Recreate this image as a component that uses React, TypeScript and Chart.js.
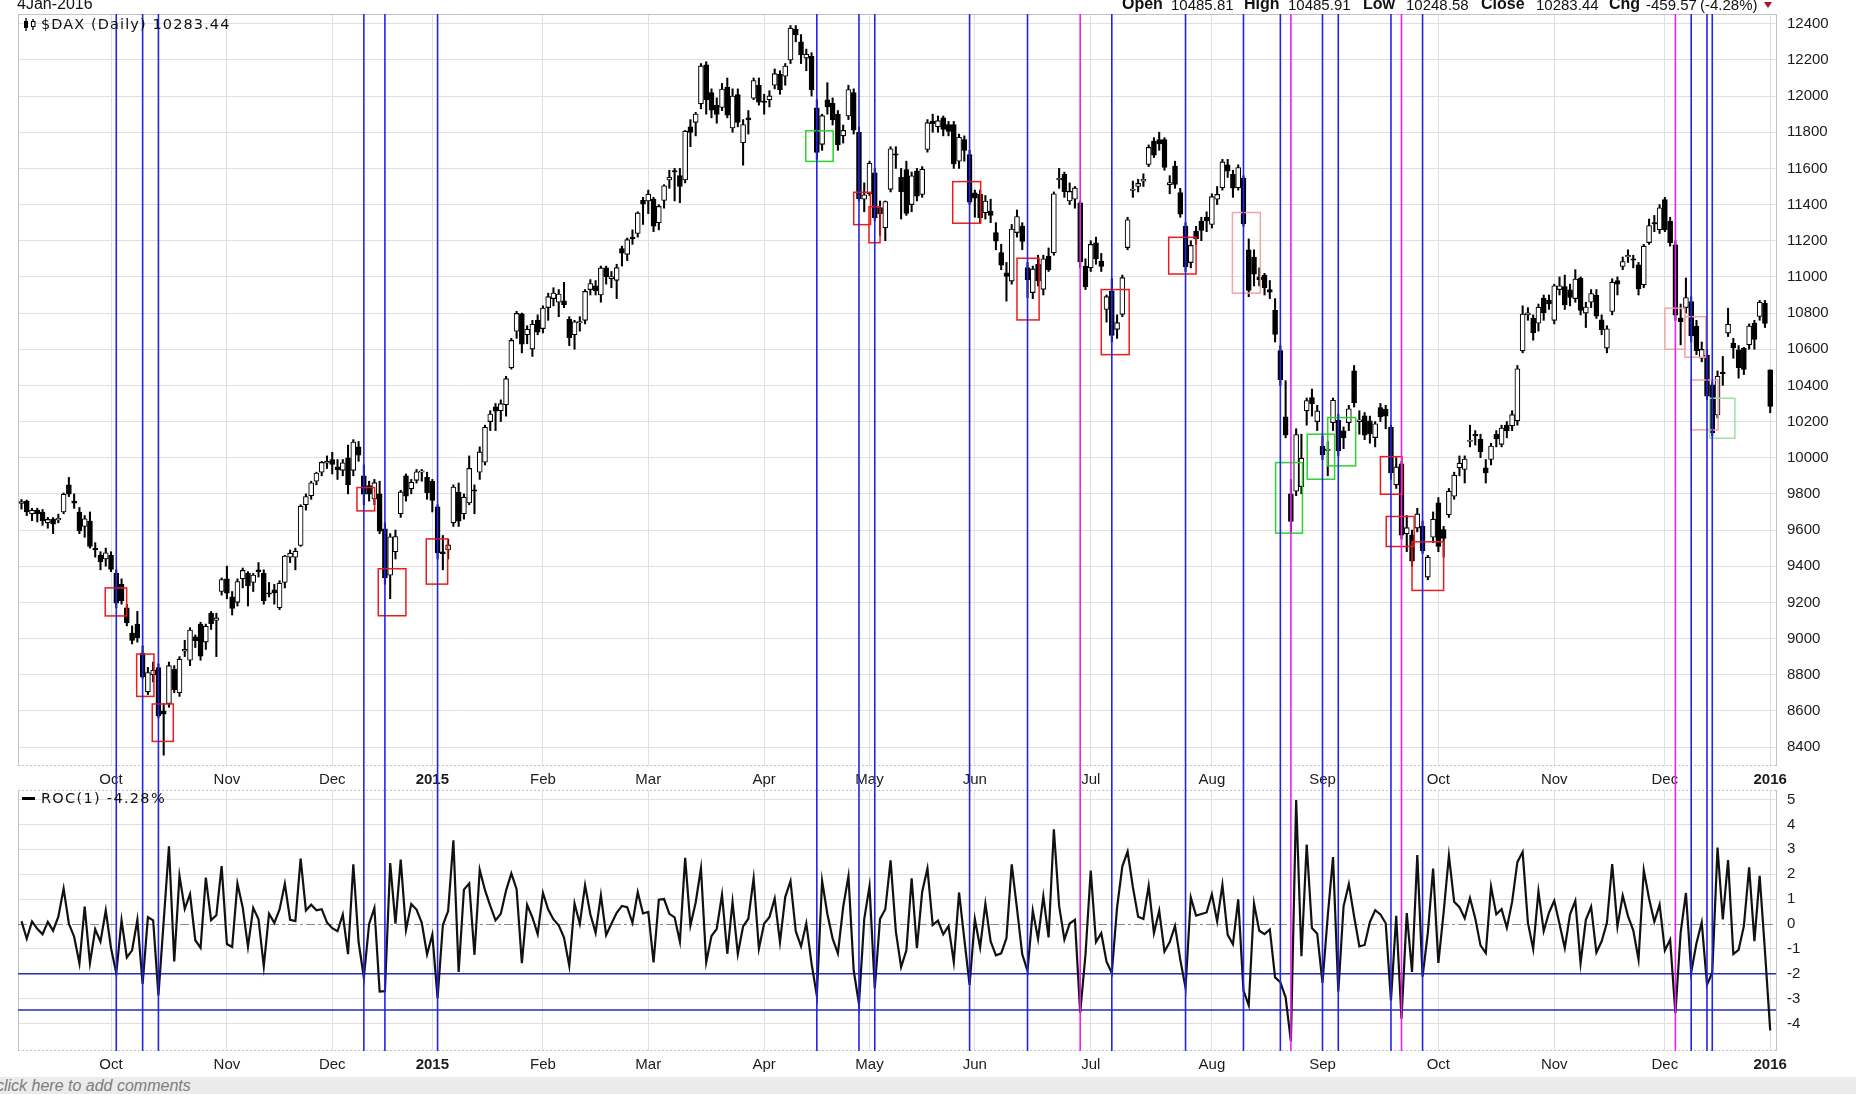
import React, { useEffect, useRef } from 'react';
import { Chart, registerables } from 'chart.js';

Chart.register(...registerables);

// ---------------- DATA ----------------
// daily candles [open, high, low, close], $DAX, 8 Sep 2014 .. 4 Jan 2016
const prevClose = 9747; // close of 5 Sep 2014 (for ROC of first bar)

const sep2014 = [
  [9747, 9769, 9716, 9758], [9760, 9766, 9680, 9700], [9690, 9720, 9652, 9710], [9710, 9721, 9645, 9691],
  [9700, 9714, 9626, 9651], [9640, 9670, 9610, 9659], [9660, 9669, 9580, 9633], [9660, 9688, 9640, 9661],
  [9700, 9805, 9690, 9798], [9850, 9891, 9785, 9799], [9760, 9800, 9720, 9749], [9700, 9725, 9580, 9595],
  [9620, 9680, 9560, 9662], [9650, 9700, 9500, 9510], [9500, 9530, 9450, 9490], [9460, 9480, 9380, 9423],
  [9440, 9500, 9400, 9474],
];
const oct2014 = [
  [9460, 9480, 9370, 9382], [9360, 9380, 9170, 9196], [9300, 9330, 9190, 9210], [9170, 9190, 9070, 9086],
  [9030, 9070, 8970, 8990], [9080, 9150, 8980, 9005], [8920, 8960, 8780, 8788], [8705, 8840, 8690, 8812],
  [8800, 8870, 8760, 8825], [8840, 8860, 8560, 8572], [8600, 8640, 8355, 8582], [8640, 8870, 8620, 8850],
  [8830, 8850, 8700, 8717], [8700, 8900, 8680, 8886], [8930, 8990, 8900, 8940], [8880, 9060, 8850, 9047],
  [9010, 9020, 8950, 8988], [9080, 9090, 8880, 8902], [8980, 9080, 8940, 9068], [9140, 9150, 9050, 9082],
  [9100, 9140, 8900, 9114], [9260, 9335, 9240, 9326],
];
const nov2014 = [
  [9330, 9400, 9220, 9251], [9230, 9260, 9130, 9166], [9200, 9330, 9180, 9315], [9330, 9390, 9280, 9377],
  [9360, 9370, 9180, 9291], [9310, 9360, 9260, 9351], [9380, 9420, 9340, 9369], [9360, 9380, 9190, 9210],
  [9250, 9310, 9230, 9248], [9270, 9300, 9190, 9252], [9170, 9320, 9160, 9306], [9310, 9460, 9280, 9456],
  [9450, 9490, 9420, 9472], [9450, 9500, 9380, 9483], [9515, 9740, 9510, 9732], [9740, 9800, 9710, 9785],
  [9790, 9870, 9770, 9861], [9870, 9920, 9850, 9915], [9920, 9980, 9900, 9974], [9970, 10010, 9940, 9980],
];
const dec2014 = [
  [9990, 10030, 9910, 9963], [9950, 9990, 9880, 9934], [9930, 9990, 9900, 9972], [10000, 10070, 9800, 9851],
  [9930, 10100, 9900, 10087], [10060, 10090, 9980, 10014], [9900, 9960, 9740, 9799], [9846, 9870, 9760, 9799],
  [9772, 9880, 9740, 9862], [9800, 9870, 9580, 9594], [9607, 9640, 9300, 9335], [9350, 9580, 9220, 9563],
  [9480, 9600, 9440, 9564], [9690, 9820, 9670, 9811], [9900, 9910, 9760, 9787], [9828, 9880, 9800, 9865],
  [9875, 9935, 9860, 9922], [9920, 9935, 9870, 9927], [9892, 9920, 9770, 9806],
];
const jan2015 = [
  [9870, 9880, 9700, 9764], [9728, 9740, 9440, 9473], [9480, 9570, 9380, 9469], [9490, 9550, 9440, 9518],
  [9640, 9850, 9620, 9838], [9810, 9860, 9620, 9649], [9690, 9800, 9660, 9782], [9750, 10010, 9740, 9941],
  [9820, 9850, 9690, 9818], [9920, 10060, 9880, 10032], [9975, 10180, 9960, 10168], [10200, 10260, 10150, 10242],
  [10282, 10300, 10150, 10257], [10260, 10320, 10200, 10299], [10293, 10450, 10230, 10437], [10498, 10660, 10490, 10649],
  [10700, 10810, 10660, 10798], [10796, 10800, 10580, 10628], [10680, 10730, 10630, 10710], [10601, 10760, 10560, 10738],
  [10760, 10790, 10680, 10694],
];
const feb2015 = [
  [10714, 10840, 10690, 10828], [10830, 10910, 10760, 10891], [10880, 10940, 10840, 10911], [10860, 10930, 10780, 10905],
  [10868, 10970, 10830, 10846], [10766, 10780, 10620, 10664], [10680, 10760, 10600, 10752], [10745, 10780, 10700, 10753],
  [10760, 10930, 10740, 10920], [10930, 10985, 10900, 10963], [10950, 10980, 10900, 10924], [10900, 11060, 10860, 11050],
  [11050, 11060, 10960, 11001], [10990, 11030, 10940, 11002], [10981, 11070, 10880, 11051], [11156, 11170, 11060, 11131],
  [11125, 11215, 11090, 11206], [11218, 11260, 11180, 11211], [11240, 11360, 11220, 11354], [11423, 11440, 11290, 11402],
];
const mar2015 = [
  [11420, 11480, 11350, 11457], [11430, 11440, 11250, 11280], [11300, 11400, 11260, 11390], [11423, 11510, 11380, 11504],
  [11536, 11590, 11490, 11551], [11587, 11600, 11420, 11582], [11560, 11600, 11410, 11500], [11536, 11810, 11520, 11806],
  [11830, 11870, 11720, 11799], [11855, 11910, 11780, 11901], [11957, 12180, 11930, 12167], [12173, 12190, 11900, 11980],
  [12019, 12040, 11880, 11922], [11950, 11990, 11850, 11899], [11937, 12070, 11920, 12039], [12050, 12100, 11880, 11895],
  [11824, 12040, 11800, 12000], [12009, 12040, 11830, 11855], [11742, 11870, 11618, 11843], [11880, 11920, 11790, 11868],
  [11988, 12100, 11980, 12086], [12060, 12100, 11950, 11966],
];
const apr2015 = [
  [11970, 12010, 11900, 11968], [11980, 12030, 11940, 12001], [12060, 12150, 12040, 12124], [12120, 12140, 12010, 12036],
  [12110, 12180, 12060, 12166], [12200, 12390, 12180, 12375], [12370, 12390, 12300, 12339], [12300, 12340, 12180, 12228],
  [12210, 12260, 12140, 12231], [12220, 12240, 12000, 12036], [11935, 11980, 11650, 11689], [11733, 11900, 11700, 11892],
  [11980, 12074, 11900, 11940], [11960, 11990, 11840, 11870], [11900, 11920, 11700, 11730], [11780, 11840, 11740, 11810],
  [11890, 12060, 11870, 12036], [12020, 12040, 11790, 11811], [11800, 11830, 11420, 11432], [11430, 11520, 11360, 11454],
];
const may2015 = [
  [11460, 11640, 11450, 11628], [11576, 11600, 11310, 11327], [11383, 11420, 11230, 11350], [11272, 11420, 11200, 11417],
  [11484, 11720, 11470, 11709], [11680, 11720, 11600, 11674], [11550, 11600, 11320, 11472], [11594, 11640, 11340, 11351],
  [11400, 11580, 11360, 11559], [11585, 11600, 11420, 11447], [11456, 11610, 11440, 11595], [11705, 11870, 11690, 11853],
  [11862, 11900, 11800, 11848], [11830, 11890, 11800, 11864], [11880, 11890, 11780, 11815], [11843, 11860, 11780, 11805],
  [11843, 11860, 11600, 11625], [11640, 11790, 11600, 11772], [11760, 11780, 11640, 11700], [11677, 11700, 11400, 11414],
];
const jun2015 = [
  [11465, 11480, 11330, 11436], [11456, 11480, 11300, 11328], [11355, 11450, 11320, 11420], [11364, 11430, 11300, 11340],
  [11245, 11300, 11150, 11197], [11134, 11180, 11040, 11065], [11023, 11080, 10866, 11002], [10977, 11290, 10960, 11265],
  [11245, 11370, 11220, 11334], [11281, 11300, 11150, 11196], [11051, 11080, 10885, 10985], [10913, 11060, 10880, 11044],
  [11069, 11120, 10950, 10978], [10931, 11120, 10900, 11100], [11115, 11160, 11030, 11040], [11134, 11470, 11120, 11460],
  [11540, 11600, 11490, 11543], [11567, 11580, 11440, 11471], [11420, 11520, 11400, 11473], [11430, 11500, 11380, 11492],
  [11410, 11420, 11050, 11083], [11060, 11100, 10930, 10945],
];
const jul2015 = [
  [11050, 11200, 11030, 11180], [11189, 11220, 11070, 11099], [11088, 11130, 11030, 11058], [10820, 10900, 10750, 10891],
  [10922, 10990, 10640, 10677], [10710, 10790, 10660, 10747], [10793, 11010, 10780, 10996], [11162, 11330, 11150, 11316],
  [11480, 11530, 11440, 11484], [11500, 11540, 11470, 11517], [11530, 11570, 11500, 11540], [11622, 11730, 11610, 11716],
  [11751, 11770, 11660, 11673], [11760, 11800, 11700, 11735], [11760, 11770, 11590, 11605], [11510, 11560, 11460, 11521],
  [11613, 11640, 11490, 11512], [11466, 11490, 11330, 11347], [11281, 11300, 11030, 11056], [11079, 11200, 11050, 11174],
  [11254, 11280, 11180, 11212], [11309, 11330, 11200, 11257], [11330, 11360, 11250, 11309],
];
const aug2015 = [
  [11290, 11460, 11270, 11444], [11430, 11500, 11400, 11456], [11493, 11650, 11480, 11636], [11620, 11650, 11550, 11585],
  [11567, 11590, 11440, 11491], [11493, 11620, 11480, 11605], [11546, 11560, 11280, 11294], [11150, 11210, 10890, 10925],
  [11110, 11150, 10950, 11015], [11000, 11050, 10950, 10985], [11009, 11020, 10900, 10940], [10930, 10980, 10880, 10916],
  [10815, 10880, 10640, 10682], [10592, 10620, 10400, 10432], [10226, 10426, 10110, 10125], [9800, 9880, 9580, 9648],
  [9815, 10160, 9790, 10128], [9840, 10130, 9800, 9997], [10259, 10330, 10180, 10316], [10333, 10380, 10230, 10299],
  [10200, 10290, 10150, 10259],
];
const sep2015 = [
  [10065, 10120, 9990, 10016], [10040, 10090, 9900, 10048], [10194, 10330, 10150, 10318], [10207, 10240, 10010, 10038],
  [10148, 10170, 10050, 10109], [10194, 10290, 10150, 10271], [10481, 10510, 10280, 10303], [10200, 10260, 10130, 10210],
  [10232, 10250, 10100, 10124], [10204, 10230, 10080, 10132], [10111, 10200, 10060, 10188], [10277, 10300, 10200, 10227],
  [10268, 10290, 10160, 10230], [10170, 10180, 9880, 9916], [9850, 10000, 9830, 9949], [9966, 9980, 9550, 9571],
  [9580, 9680, 9480, 9613], [9574, 9600, 9400, 9428], [9611, 9720, 9590, 9689], [9620, 9650, 9470, 9484],
  [9340, 9460, 9325, 9450], [9560, 9700, 9530, 9660],
];
const oct2015 = [
  [9750, 9780, 9480, 9509], [9602, 9620, 9450, 9553], [9685, 9830, 9670, 9815], [9787, 9920, 9770, 9903],
  [9944, 10010, 9900, 9970], [9935, 10010, 9860, 9993], [10090, 10180, 10060, 10097], [10130, 10150, 10070, 10120],
  [10102, 10130, 10000, 10033], [9944, 9990, 9860, 9916], [9990, 10080, 9960, 10065], [10130, 10150, 10060, 10104],
  [10074, 10180, 10060, 10164], [10180, 10200, 10110, 10148], [10176, 10260, 10150, 10238], [10204, 10510, 10180, 10492],
  [10592, 10840, 10580, 10795], [10790, 10830, 10760, 10801], [10772, 10790, 10650, 10692], [10744, 10850, 10700, 10832],
  [10883, 10900, 10760, 10801], [10870, 10900, 10820, 10850],
];
const nov2015 = [
  [10760, 10960, 10740, 10951], [10930, 11000, 10900, 10951], [10947, 11010, 10820, 10845], [10929, 10960, 10840, 10887],
  [10880, 11040, 10860, 10988], [10994, 11000, 10790, 10815], [10800, 10860, 10720, 10833], [10860, 10930, 10830, 10908],
  [10900, 10930, 10770, 10783], [10763, 10790, 10680, 10708], [10606, 10730, 10580, 10713], [10809, 10990, 10790, 10971],
  [10980, 11000, 10900, 10960], [11058, 11110, 11040, 11085], [11110, 11150, 11080, 11120], [11100, 11120, 11050, 11092],
  [11067, 11080, 10900, 10934], [10957, 11180, 10940, 11170], [11190, 11320, 11180, 11284], [11300, 11340, 11250, 11294],
  [11261, 11400, 11240, 11382],
];
const dec2015 = [
  [11428, 11440, 11250, 11261], [11308, 11330, 11170, 11190], [11178, 11200, 10760, 10789], [10772, 10850, 10624, 10752],
  [10830, 10994, 10800, 10886], [10864, 10890, 10640, 10674], [10726, 10760, 10570, 10592], [10550, 10640, 10530, 10599],
  [10568, 10600, 10320, 10340], [10403, 10420, 10120, 10139], [10236, 10480, 10220, 10450], [10470, 10560, 10400, 10469],
  [10689, 10827, 10670, 10738], [10633, 10660, 10550, 10608], [10597, 10620, 10440, 10498], [10605, 10610, 10460, 10489],
  [10624, 10740, 10600, 10728], [10744, 10760, 10600, 10654], [10781, 10870, 10760, 10860], [10855, 10870, 10720, 10743],
];
const jan2016 = [[10485.81, 10485.91, 10248.58, 10283.44]];

// month start bar indices & their tick labels
const monthTickIdx = [17, 39, 59, 78, 99, 119, 141, 161, 181, 203, 226, 247, 269, 291, 312, 332];
const monthTickLabels = ['Oct', 'Nov', 'Dec', '2015', 'Feb', 'Mar', 'Apr', 'May', 'Jun', 'Jul', 'Aug', 'Sep', 'Oct', 'Nov', 'Dec', '2016'];
const priceTicks = [8400, 8600, 8800, 9000, 9200, 9400, 9600, 9800, 10000, 10200, 10400, 10600, 10800, 11000, 11200, 11400, 11600, 11800, 12000, 12200, 12400];
const rocTicks = [-4, -3, -2, -1, 0, 1, 2, 3, 4, 5];
const rocLevels = [-2, -3.45];

// annotation markers (bar index)
const blueLineIdx = [18, 23, 26, 65, 69, 79, 151, 159, 162, 180, 191, 207, 221, 232, 239, 247, 250, 260, 266, 317, 320, 321];
const magentaLineIdx = [201, 241, 262, 314];

// annotation boxes [fromIndex, toIndex, lowPrice, highPrice]
const redBoxes = [
  [15.9, 19.97, 9125, 9280], [21.87, 25.15, 8680, 8914], [24.83, 28.82, 8431, 8638], [63.69, 67.05, 9706, 9835],
  [67.74, 72.99, 9126, 9386], [76.85, 80.91, 9301, 9551], [158.0, 161.2, 11289, 11468], [160.9, 163.0, 11189, 11388],
  [176.8, 182.1, 11297, 11527], [189.0, 193.2, 10762, 11103], [205.0, 210.3, 10570, 10930], [217.8, 223.0, 11016, 11219],
  [258.0, 262.1, 9798, 10006], [259.1, 264.4, 9509, 9675], [264.0, 270.0, 9266, 9535],
];
const greenBoxes = [[148.9, 154.1, 11639, 11808], [238.1, 243.2, 9583, 9973], [244.1, 249.3, 9881, 10130], [248.0, 253.3, 9955, 10222]];
const pinkBoxes = [[229.9, 235.2, 10910, 11356], [312.0, 315.8, 10600, 10827], [315.8, 319.8, 10556, 10780], [316.9, 322.1, 10154, 10430]];
const lightGreenBoxes = [[320.5, 325.3, 10108, 10329]];

// header texts
const headerDate = '4Jan-2016';
const headerLabels = ['Open', 'High', 'Low', 'Close', 'Chg'];
const headerValues = ['10485.81', '10485.91', '10248.58', '10283.44', '-459.57', '(-4.28%)'];
const priceLegend = '$DAX (Daily) 10283.44';
const rocLegend = 'ROC(1) -4.28%';

// ---------------- DERIVED ----------------
const candles = [
  ...sep2014, ...oct2014, ...nov2014, ...dec2014, ...jan2015, ...feb2015, ...mar2015, ...apr2015,
  ...may2015, ...jun2015, ...jul2015, ...aug2015, ...sep2015, ...oct2015, ...nov2015, ...dec2015, ...jan2016,
];
const closes = candles.map((c) => c[3]);
const roc = closes.map((c, i) => (c / (i === 0 ? prevClose : closes[i - 1]) - 1) * 100);

// ---------------- STYLE ----------------
const FONT = "'Liberation Sans', Arial, Helvetica, sans-serif";
const LEGEND_FONT = "'DejaVu Sans', Verdana, sans-serif";
const GRID = '#e0e0e0';
const BORDER = '#c2c2c2';
const BLUE = '#2424e6';
const MAGENTA = '#f020f0';
const X_MIN = -0.66;
const X_MAX = 333.1;

const xAxisOptions = (height: number) => ({
  type: 'linear',
  min: X_MIN,
  max: X_MAX,
  offset: false,
  afterBuildTicks: (s: any) => { s.ticks = monthTickIdx.map((v) => ({ value: v })); },
  afterFit: (s: any) => { s.height = height; s.paddingLeft = 0; s.paddingRight = 0; },
  grid: { color: GRID, drawTicks: false, offset: false },
  border: { display: false },
  ticks: {
    autoSkip: false,
    maxRotation: 0,
    minRotation: 0,
    padding: 5,
    color: '#1c1c1c',
    font: (ctx: any) => {
      const k = monthTickIdx.indexOf(ctx.tick ? ctx.tick.value : -1);
      const isYear = k >= 0 && /^\d{4}$/.test(monthTickLabels[k]);
      return { family: FONT, size: 15, weight: isYear ? 'bold' : 'normal' };
    },
    callback: (v: number) => {
      const k = monthTickIdx.indexOf(v);
      return k >= 0 ? monthTickLabels[k] : '';
    },
  },
});

function drawFrame(chart: any, topDotted: boolean) {
  const { ctx, chartArea: a } = chart;
  ctx.save();
  ctx.strokeStyle = BORDER;
  ctx.lineWidth = 1;
  ctx.beginPath();
  ctx.moveTo(Math.round(a.left) + 0.5, a.top);
  ctx.lineTo(Math.round(a.left) + 0.5, a.bottom);
  ctx.moveTo(Math.round(a.right) + 0.5, a.top);
  ctx.lineTo(Math.round(a.right) + 0.5, a.bottom);
  ctx.stroke();
  ctx.setLineDash(topDotted ? [2, 2] : []);
  ctx.beginPath();
  ctx.moveTo(a.left, Math.round(a.top) + 0.5);
  ctx.lineTo(a.right, Math.round(a.top) + 0.5);
  ctx.stroke();
  ctx.setLineDash([2, 2]);
  ctx.beginPath();
  ctx.moveTo(a.left, Math.round(a.bottom) - 0.5);
  ctx.lineTo(a.right, Math.round(a.bottom) - 0.5);
  ctx.stroke();
  ctx.restore();
}

function drawVLines(chart: any, y0: number, y1: number) {
  const { ctx, scales } = chart;
  const x = scales.x;
  ctx.save();
  ctx.lineWidth = 1.6;
  const groups: any[] = [[blueLineIdx, BLUE], [magentaLineIdx, MAGENTA]];
  for (const [list, color] of groups) {
    ctx.strokeStyle = color;
    for (const i of list) {
      const px = x.getPixelForValue(i);
      ctx.beginPath();
      ctx.moveTo(px, y0);
      ctx.lineTo(px, y1);
      ctx.stroke();
    }
  }
  ctx.restore();
}

const pricePlugin = {
  id: 'priceOverlay',
  beforeDatasetsDraw(chart: any) { drawFrame(chart, false); },
  afterDatasetsDraw(chart: any) {
    const { ctx, scales, chartArea } = chart;
    const { x, y } = scales;
    ctx.save();
    ctx.lineWidth = 1.5;
    const groups: any[] = [[pinkBoxes, '#f4a4a4'], [lightGreenBoxes, '#9fe39f'], [redBoxes, '#ec1c1c'], [greenBoxes, '#2fd22f']];
    for (const [list, color] of groups) {
      ctx.strokeStyle = color;
      for (const b of list) {
        const x0 = x.getPixelForValue(b[0]);
        const x1 = x.getPixelForValue(b[1]);
        const yt = y.getPixelForValue(b[3]);
        const yb = y.getPixelForValue(b[2]);
        ctx.strokeRect(x0, yt, x1 - x0, yb - yt);
      }
    }
    ctx.restore();
    drawVLines(chart, chartArea.top, chart.height);
  },
};

const rocPlugin = {
  id: 'rocOverlay',
  beforeDatasetsDraw(chart: any) {
    drawFrame(chart, true);
    const { ctx, scales, chartArea: a } = chart;
    const y = scales.y;
    ctx.save();
    ctx.strokeStyle = '#8a8a8a';
    ctx.lineWidth = 1;
    ctx.setLineDash([9, 3, 3, 3]);
    const y0 = Math.round(y.getPixelForValue(0)) + 0.5;
    ctx.beginPath();
    ctx.moveTo(a.left, y0);
    ctx.lineTo(a.right, y0);
    ctx.stroke();
    ctx.setLineDash([]);
    ctx.strokeStyle = '#2a2ab4';
    ctx.lineWidth = 1.5;
    for (const lv of rocLevels) {
      const py = y.getPixelForValue(lv);
      ctx.beginPath();
      ctx.moveTo(a.left, py);
      ctx.lineTo(a.right, py);
      ctx.stroke();
    }
    ctx.restore();
  },
  afterDatasetsDraw(chart: any) {
    drawVLines(chart, 0, chart.chartArea.bottom);
  },
};

export default function App() {
  const priceRef = useRef<HTMLCanvasElement>(null);
  const rocRef = useRef<HTMLCanvasElement>(null);

  useEffect(() => {
    Chart.defaults.font.family = FONT;
    const wickData = candles.map((c, i) => ({ x: i, y: [c[2], c[1]] }));
    const bodyData = candles.map((c, i) => {
      let lo = Math.min(c[0], c[3]);
      let hi = Math.max(c[0], c[3]);
      if (hi - lo < 8) { const m = (hi + lo) / 2; lo = m - 4; hi = m + 4; }
      return { x: i, y: [lo, hi] };
    });
    const bodyFill = candles.map((c) => (c[3] > c[0] ? '#ffffff' : '#000000'));

    const priceChart = new Chart(priceRef.current as any, {
      type: 'bar',
      data: {
        datasets: [
          { data: bodyData, backgroundColor: bodyFill, borderColor: '#000000', borderWidth: 1.1, borderSkipped: false, barThickness: 5, grouped: false, order: 1 } as any,
          { data: wickData, backgroundColor: '#000000', borderWidth: 0, barThickness: 1.4, grouped: false, order: 2 } as any,
        ],
      },
      options: {
        animation: false,
        responsive: false,
        events: [],
        devicePixelRatio: 1,
        layout: { padding: { top: 14, left: 18, right: 0, bottom: 0 } },
        plugins: { legend: { display: false }, tooltip: { enabled: false } },
        scales: {
          x: xAxisOptions(23) as any,
          y: {
            position: 'right',
            min: 8295,
            max: 12454,
            beginAtZero: false,
            afterBuildTicks: (s: any) => { s.ticks = priceTicks.map((v) => ({ value: v })); },
            afterFit: (s: any) => { s.width = 80; s.paddingTop = 0; s.paddingBottom = 0; },
            grid: { color: GRID, drawTicks: false },
            border: { display: false },
            ticks: { autoSkip: false, padding: 11, color: '#1c1c1c', font: { family: FONT, size: 15 }, callback: (v: any) => String(v) },
          } as any,
        },
      },
      plugins: [pricePlugin],
    } as any);

    const rocChart = new Chart(rocRef.current as any, {
      type: 'line',
      data: {
        datasets: [
          { data: roc.map((v, i) => ({ x: i, y: v })), borderColor: '#111111', borderWidth: 2.2, pointRadius: 0, tension: 0, fill: false },
        ],
      },
      options: {
        animation: false,
        responsive: false,
        events: [],
        devicePixelRatio: 1,
        layout: { padding: { top: 1, left: 18, right: 0, bottom: 0 } },
        plugins: { legend: { display: false }, tooltip: { enabled: false } },
        scales: {
          x: xAxisOptions(26) as any,
          y: {
            position: 'right',
            min: -5.1,
            max: 5.38,
            afterBuildTicks: (s: any) => { s.ticks = rocTicks.map((v) => ({ value: v })); },
            afterFit: (s: any) => { s.width = 80; s.paddingTop = 0; s.paddingBottom = 0; },
            grid: { color: (ctx: any) => (ctx.tick && ctx.tick.value === 0 ? 'rgba(0,0,0,0)' : GRID), drawTicks: false },
            border: { display: false },
            ticks: { autoSkip: false, padding: 11, color: '#1c1c1c', font: { family: FONT, size: 15 }, callback: (v: any) => String(v) },
          } as any,
        },
      },
      plugins: [rocPlugin],
    } as any);

    return () => { priceChart.destroy(); rocChart.destroy(); };
  }, []);

  const headerLabelX = [1122, 1244, 1363, 1481, 1609];
  const headerValueX = [1171, 1288, 1406, 1536, 1646, 1700];

  return (
    <div style={{ position: 'fixed', left: 0, top: 0, width: 1856, height: 1094, background: '#ffffff', overflow: 'hidden' }}>
      <canvas ref={priceRef} width={1856} height={789} style={{ position: 'absolute', left: 0, top: 0 }} />
      <canvas ref={rocRef} width={1856} height={288} style={{ position: 'absolute', left: 0, top: 789 }} />

      <div style={{ position: 'absolute', left: 17, top: -5, font: `16px ${FONT}`, color: '#111', whiteSpace: 'nowrap' }}>{headerDate}</div>
      {headerLabels.map((t, k) => (
        <div key={'hl' + k} style={{ position: 'absolute', left: headerLabelX[k], top: -5, font: `bold 16px ${FONT}`, color: '#111', whiteSpace: 'nowrap' }}>{t}</div>
      ))}
      {headerValues.map((t, k) => (
        <div key={'hv' + k} style={{ position: 'absolute', left: headerValueX[k], top: -4, font: `15px ${FONT}`, color: '#111', whiteSpace: 'nowrap' }}>{t}</div>
      ))}
      <div style={{ position: 'absolute', left: 1764, top: 2, width: 0, height: 0, borderLeft: '4px solid transparent', borderRight: '4px solid transparent', borderTop: '6px solid #a3122c' }} />

      <svg width="15" height="13" style={{ position: 'absolute', left: 23, top: 18 }}>
        <line x1="3" y1="0" x2="3" y2="13" stroke="#000" strokeWidth="1.3" />
        <rect x="1" y="3" width="4" height="7" fill="#000" />
        <line x1="10" y1="1" x2="10" y2="12" stroke="#000" strokeWidth="1.3" />
        <rect x="8.5" y="3.5" width="3.5" height="5" fill="#fff" stroke="#000" strokeWidth="1" />
      </svg>
      <div style={{ position: 'absolute', left: 41, top: 16, font: `14.5px ${LEGEND_FONT}`, letterSpacing: '1.1px', lineHeight: '17px', color: '#111', whiteSpace: 'nowrap' }}>{priceLegend}</div>

      <div style={{ position: 'absolute', left: 22, top: 797, width: 13, height: 3, background: '#000' }} />
      <div style={{ position: 'absolute', left: 41, top: 790, font: `14.5px ${LEGEND_FONT}`, letterSpacing: '1.3px', lineHeight: '17px', color: '#111', whiteSpace: 'nowrap' }}>{rocLegend}</div>

      <div style={{ position: 'absolute', left: 0, top: 1077, width: 1856, height: 17, background: '#ebebeb' }}>
        <div style={{ position: 'absolute', left: -4, top: 0, font: `italic 16px ${FONT}`, lineHeight: '17px', color: '#7c7c7c', whiteSpace: 'nowrap' }}>click here to add comments</div>
      </div>
    </div>
  );
}
